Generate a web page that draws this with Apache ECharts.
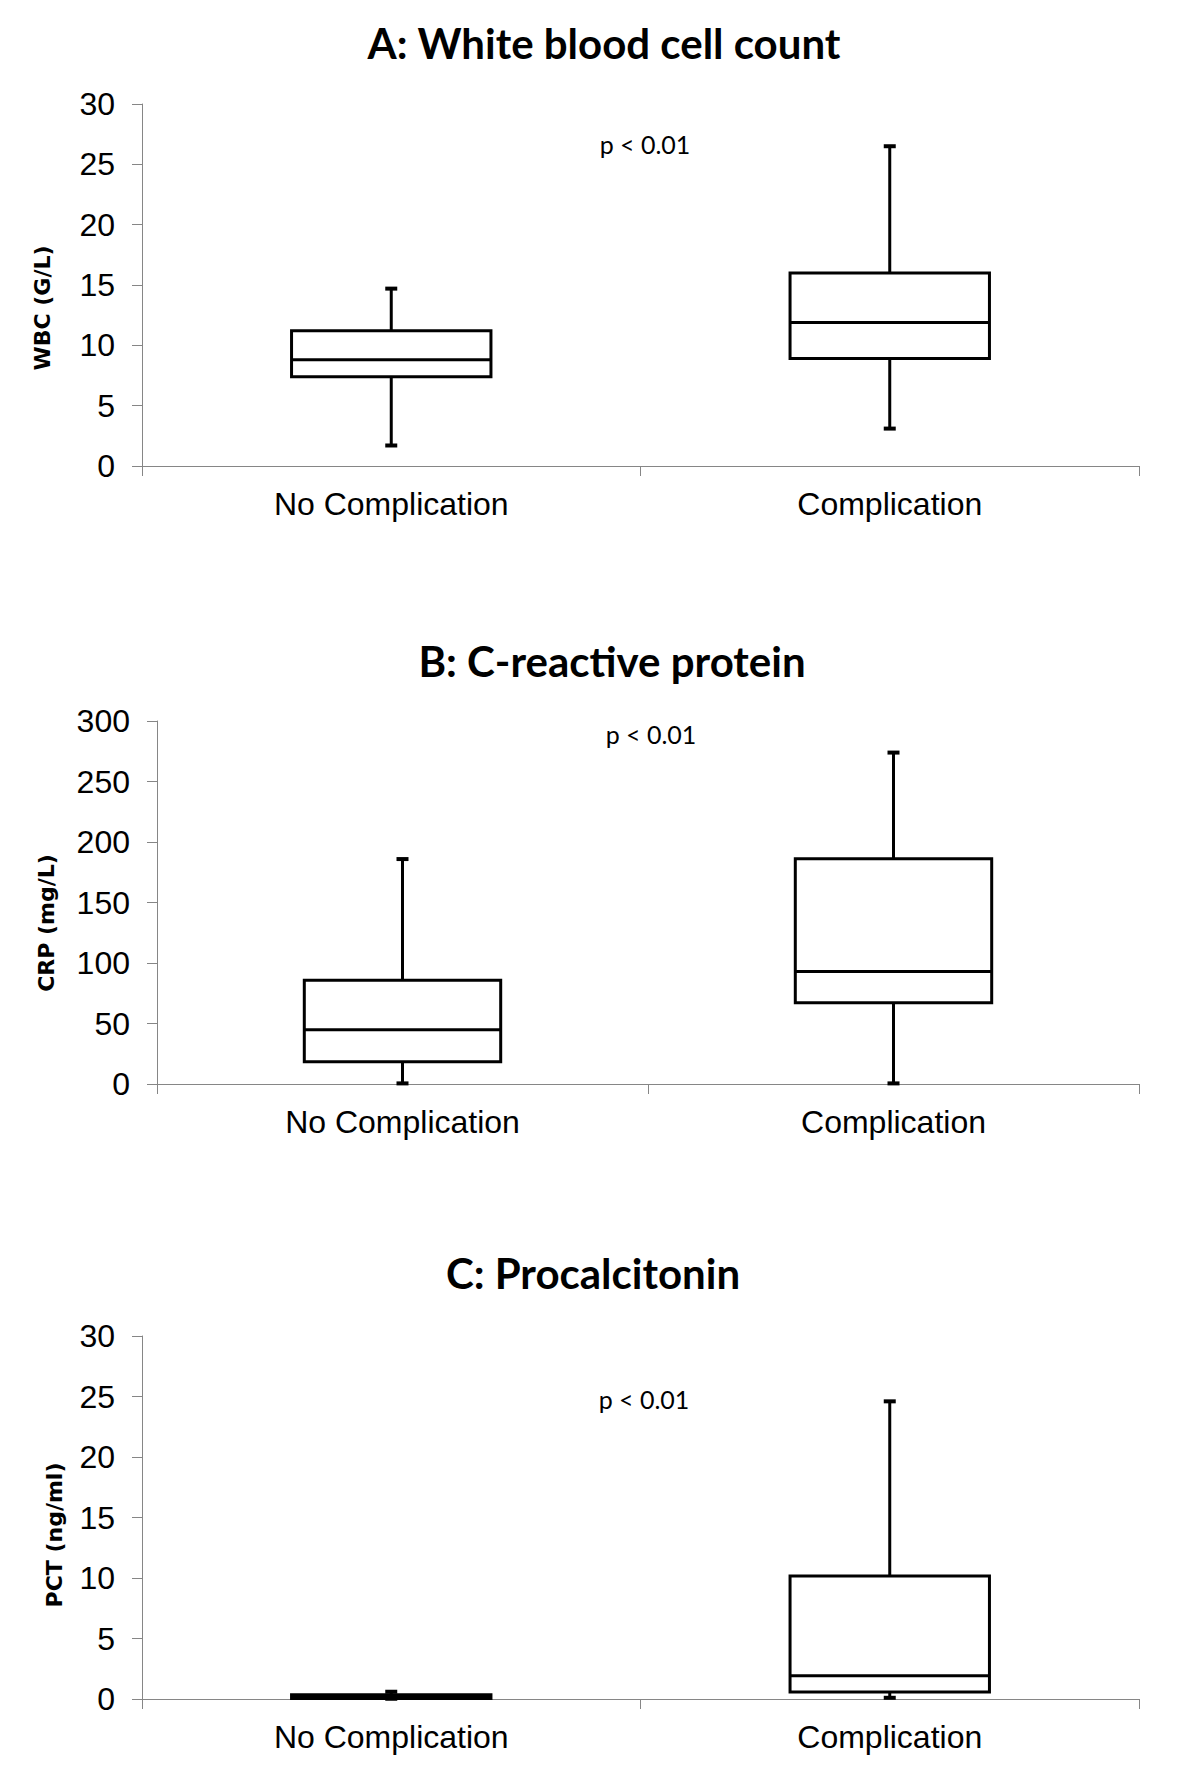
<!DOCTYPE html>
<html>
<head>
<meta charset="utf-8">
<script src="https://cdn.jsdelivr.net/npm/echarts@6/dist/echarts.min.js"></script>
<style>
html,body{margin:0;padding:0;background:#fff;}
#chart{width:1200px;height:1787px;}
</style>
</head>
<body>
<div id="chart"></div>
<script>
// ---- data ----
const categories = ['No Complication', 'Complication'];
// [min, Q1, median, Q3, max]
const wbcBox = [[1.7, 7.4, 8.8, 11.2, 14.7], [3.1, 8.9, 11.9, 16.0, 26.5]];
const crpBox = [[0.5, 18.4, 44.8, 85.8, 185.9], [0.5, 67.1, 93.0, 186.2, 273.9]];
const pctBox = [[0.02, 0.05, 0.15, 0.35, 0.6], [0.1, 0.58, 1.92, 10.16, 24.6]];
const titles = ['A: White blood cell count', 'B: C-reactive protein', 'C: Procalcitonin'];
const yNames = ['WBC (G/L)', 'CRP (mg/L)', 'PCT (ng/ml)'];
const pText = ['p < 0.01', 'p < 0.01', 'p < 0.01'];
const yMax = [30, 300, 30];
const yStep = [5, 50, 5];

// ---- layout ----
const grids = [
  {left: 142, right: 61, top: 104, height: 362},
  {left: 157, right: 61, top: 721, height: 363},
  {left: 142, right: 61, top: 1336, height: 363}
];
const titlePos = [[604, 43], [612, 661], [593, 1273]];
const namePos = [[42, 308], [46, 923], [54, 1535]];
const pPos = [[645, 144], [651, 734], [644, 1399]];

const AXIS_COLOR = '#868686';

function renderBox(params, api) {
  const c = api.value(0);
  const pMin = api.coord([c, api.value(1)]);
  const pQ1 = api.coord([c, api.value(2)]);
  const pMed = api.coord([c, api.value(3)]);
  const pQ3 = api.coord([c, api.value(4)]);
  const pMax = api.coord([c, api.value(5)]);
  const bw = api.size([1, 0])[0] * 0.4;
  const x = pMed[0];
  const half = bw / 2;
  const cap = 6;
  const st = {stroke: '#000', lineWidth: 3, fill: null};
  return {
    type: 'group',
    children: [
      {type: 'line', shape: {x1: x, y1: pQ3[1], x2: x, y2: pMax[1]}, style: st},
      {type: 'line', shape: {x1: x, y1: pQ1[1], x2: x, y2: pMin[1]}, style: st},
      {type: 'line', shape: {x1: x - cap, y1: pMax[1], x2: x + cap, y2: pMax[1]}, style: {stroke: '#000', lineWidth: 4}},
      {type: 'line', shape: {x1: x - cap, y1: pMin[1], x2: x + cap, y2: pMin[1]}, style: {stroke: '#000', lineWidth: 4}},
      {type: 'rect', shape: {x: x - half, y: pQ3[1], width: bw, height: pQ1[1] - pQ3[1]},
        style: {stroke: '#000', lineWidth: 3, fill: '#fff'}},
      {type: 'line', shape: {x1: x - half, y1: pMed[1], x2: x + half, y2: pMed[1]}, style: st}
    ]
  };
}

const boxSets = [wbcBox, crpBox, pctBox];

const xAxes = grids.map((g, i) => ({
  type: 'category', gridIndex: i, data: categories,
  boundaryGap: true,
  axisLine: {lineStyle: {color: AXIS_COLOR, width: 1}},
  axisTick: {show: true, length: 10, inside: false, alignWithLabel: false, lineStyle: {color: AXIS_COLOR}},
  axisLabel: {color: '#000', fontSize: 32, fontFamily: 'Liberation Sans, Arial, sans-serif', margin: 22},
  splitLine: {show: false}
}));

const yAxes = grids.map((g, i) => ({
  type: 'value', gridIndex: i, min: 0, max: yMax[i], interval: yStep[i],
  axisLine: {show: true, lineStyle: {color: AXIS_COLOR, width: 1}},
  axisTick: {show: true, length: 10, inside: false, lineStyle: {color: AXIS_COLOR}},
  axisLabel: {color: '#000', fontSize: 32, fontFamily: 'Liberation Sans, Arial, sans-serif', margin: 27},
  splitLine: {show: false}
}));

const series = boxSets.map((set, i) => ({
  type: 'custom', xAxisIndex: i, yAxisIndex: i,
  renderItem: renderBox,
  encode: {x: 0, y: [1, 2, 3, 4, 5]},
  clip: false,
  data: set.map((d, k) => [k].concat(d))
}));

const graphics = [];
titles.forEach((t, i) => {
  graphics.push({type: 'text', x: titlePos[i][0], y: titlePos[i][1],
    style: {text: t, fontSize: 42, fontWeight: 'bold', fontFamily: 'Lato, sans-serif', fill: '#000', align: 'center', verticalAlign: 'middle'}});
});
yNames.forEach((t, i) => {
  graphics.push({type: 'text', x: namePos[i][0], y: namePos[i][1], rotation: Math.PI / 2,
    style: {text: t, fontSize: 22, fontWeight: 'bold', fontFamily: 'DejaVu Sans, sans-serif', fill: '#000', align: 'center', verticalAlign: 'middle'}});
});
pText.forEach((t, i) => {
  graphics.push({type: 'text', x: pPos[i][0], y: pPos[i][1],
    style: {text: t, fontSize: 25, fontFamily: 'Lato, sans-serif', fill: '#000', align: 'center', verticalAlign: 'middle'}});
});

const chart = echarts.init(document.getElementById('chart'), null, {renderer: 'svg', width: 1200, height: 1787});
chart.setOption({
  backgroundColor: '#fff',
  animation: false,
  grid: grids,
  xAxis: xAxes,
  yAxis: yAxes,
  series: series,
  graphic: graphics
});
</script>
</body>
</html>
